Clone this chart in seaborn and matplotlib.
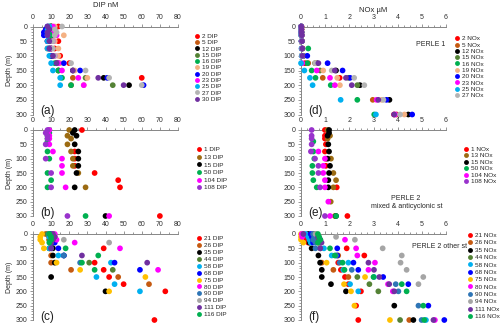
import numpy as np
import pandas as pd
import matplotlib
matplotlib.use('Agg')
import matplotlib.pyplot as plt
from matplotlib.ticker import MultipleLocator
import seaborn as sns

nan = np.nan

# ---------------- data ----------------
# (a) DIP, PERLE 1
depth_a = [0, 10, 20, 30, 50, 75, 100, 125, 150, 175, 200]
dip_a = {
    '2':  [14, 12, 11, 12, 14, 12, 15, 20, nan, 60, nan],
    '5':  [10, 9, 9, 10, 8, 8, 11, 13, 14, 22, 21],
    '12': [10, 9, 11, 10, 10, 10, 10, 14, 22, 39, 53],
    '15': [9, 10, 9, 9, 10, 10, 11, 13, 14, 29, 44],
    '16': [10, 9, 10, 10, 9, 9, 10, 12, 14, 16, 21],
    '19': [12, 11, 12, 17, 12, 14, 14, 15, 23, 30, 28],
    '20': [8, 7, 6, 6, 8, 9, 10, 17, 26, 41, 61],
    '23': [11, 11, 12, 13, 11, 10, 12, 14, 16, 25, 28],
    '25': [9, 8, 8, 8, 8, 8, 9, 10, 11, 15, 15],
    '27': [16, 12, 13, 12, 11, 11, 12, 21, 29, 42, 60],
    '30': [8, 9, 8, 8, 9, 9, 11, 13, 22, 36, 50],
}
col_a = ['#FF0000', '#C55A11', '#000000', '#548235', '#00B050', '#F4B183',
         '#0000FF', '#FF00FF', '#00B0F0', '#B4B4B4', '#7030A0']

# (b) DIP, PERLE 2 mixed & anticyclonic stations
depth_b = [0, 10, 20, 30, 40, 50, 75, 100, 125, 150, 175, 200, 300]
dip_b = {
    '1':   [27, nan, nan, nan, nan, nan, 23, 23, 23, 34, 47, 48, 70],
    '13':  [20, nan, 19, 21, nan, 19, 21, 22, 22, 25, nan, 29, nan],
    '15':  [23, 22, 24, nan, nan, 23, 25, 25, 25, 24, nan, 23, 40],
    '50':  [9, 9, 8, 8, 8, nan, 8, 9, nan, 8, 10, 8, 29],
    '104': [9, 8, 9, 9, nan, 9, 11, 16, 16, 16, nan, 18, 42],
    '108': [8, 7, 8, 8, nan, 7, nan, 7, nan, 10, nan, 10, 19],
}
col_b = ['#FF0000', '#9C6B12', '#000000', '#00B050', '#FF00FF', '#9933CC']

# (c) DIP, PERLE 2 other stations
depth_c = [0, 10, 20, 30, 50, 75, 100, 125, 150, 175, 200, 300]
dip_c = {
    '21':  [10, 11, 11, nan, 39, nan, 34, 39, 42, 50, 73, 67],
    '26':  [7, 9, 9, 10, 9, 10, 10, 21, 47, 64, nan, nan],
    '35':  [11, 10, 11, 11, 11, 11, 12, nan, 10, nan, 40, nan],
    '44':  [8, 9, 9, 10, 9, 17, 31, 44, nan, nan, nan, nan],
    '58':  [9, 9, 10, 10, 9, 14, 43, nan, 35, 45, 59, nan],
    '68':  [10, 11, 11, 12, 14, 17, 45, 59, nan, nan, nan, nan],
    '75':  [5, 4, 4, 5, 6, nan, 13, 26, 62, nan, 42, nan],
    '80':  [12, 12, 13, 23, 48, nan, nan, 69, nan, nan, nan, nan],
    '90':  [9, 10, 10, 10, 10, 17, 26, nan, nan, nan, nan, nan],
    '94':  [11, 12, 17, 42, nan, nan, nan, nan, nan, nan, nan, nan],
    '111': [11, 12, 11, 10, 10, 27, 63, nan, nan, nan, nan, nan],
    '116': [9, 10, 10, 9, 18, 36, 27, 34, nan, nan, nan, nan],
}
col_c = ['#FF0000', '#C55A11', '#000000', '#548235', '#00B0F0', '#0000FF',
         '#FFC000', '#FF00FF', '#2E75B6', '#A5A5A5', '#7030A0', '#00B050']

# (d) NOx, PERLE 1
depth_d = [0, 10, 20, 30, 50, 75, 100, 125, 150, 175, 200, 250, 300]
nox_d = {
    '2':  [0.02, 0.02, 0.02, 0.02, 0.03, 0.05, 0.1, 0.17, nan, 1.6, nan, nan, 3.85],
    '5':  [0.01, 0.01, 0.01, 0.02, 0.03, 0.06, 0.08, 0.3, nan, 0.9, nan, 2.97, 3.96],
    '12': [0.01, 0.01, 0.02, 0.03, 0.04, 0.05, 0.06, 0.65, 1.45, nan, 2.44, 3.66, 4.44],
    '15': [0.01, 0.01, 0.01, 0.02, 0.02, 0.04, 0.05, 0.58, 0.79, 1.96, 2.33, nan, nan],
    '16': [0.01, 0.01, 0.02, 0.02, 0.03, 0.3, 0.1, 0.26, 0.44, 0.6, 1.23, 2.33, 3.03],
    '19': [0.01, 0.02, 0.02, 0.03, 0.04, 0.05, 0.07, 0.6, 0.92, 1.5, 1.61, 3.34, 4.28],
    '20': [0.01, 0.01, 0.02, 0.02, 0.03, 0.04, 0.26, 1.1, 1.72, 2.03, nan, 3.54, 4.6],
    '23': [0.01, 0.01, 0.01, 0.02, 0.02, 0.03, 0.04, 0.05, 0.65, 1.2, 1.4, 3.13, 3.9],
    '25': [0.01, 0.01, 0.01, 0.01, 0.02, 0.02, 0.03, 0.0, 0.14, 0.37, 0.48, 1.64, 3.1],
    '27': [0.01, 0.01, 0.02, 0.02, 0.03, 0.04, 0.05, 0.6, 1.27, 2.2, 2.62, 3.41, 4.1],
    '30': [0.01, 0.02, 0.02, 0.03, 0.04, 0.05, 0.06, 0.72, 1.4, 1.86, 2.1, 3.2, 3.85],
}
col_d = col_a

# (e) NOx, PERLE 2 mixed & anticyclonic stations
depth_e = [0, 10, 20, 30, 40, 50, 75, 100, 125, 150, 175, 200, 250, 300]
nox_e = {
    '1':   [0.99, nan, 0.99, 0.99, nan, 1.03, 0.99, 1.03, 1.03, nan, nan, 1.48, nan, 1.92],
    '13':  [1.1, nan, 1.2, 1.1, nan, nan, nan, 1.24, nan, 1.34, 1.45, 1.34, 1.23, 1.4],
    '15':  [1.16, 1.16, 1.1, nan, nan, 1.13, 1.16, 1.1, 1.2, 1.16, 1.13, 1.13, nan, 1.45],
    '50':  [nan, nan, nan, nan, 0.51, nan, 0.51, 0.55, 0.47, 0.47, 0.51, 0.65, nan, 1.45],
    '104': [nan, nan, nan, nan, nan, nan, 0.72, 0.99, 0.92, 0.92, 0.99, 0.99, 1.13, 1.2],
    '108': [0.44, nan, 0.44, 0.44, nan, 0.44, 0.41, 0.58, 0.72, 0.72, nan, 0.79, nan, 0.99],
}
col_e = col_b

# (f) NOx, PERLE 2 other stations
depth_f = [0, 10, 20, 30, 50, 75, 100, 125, 150, 175, 200, 250, 300]
nox_f = {
    '21':  [0.1, 0.1, 0.2, 0.3, 1.89, 2.62, 1.54, 1.65, 1.82, 1.96, 2.48, 2.28, 2.37],
    '26':  [0.5, 0.6, 0.6, 0.7, nan, 1.54, 0.86, 1.34, 1.96, nan, nan, nan, 4.48],
    '35':  [0.3, 0.35, 0.4, 0.35, 0.44, 0.72, 0.79, 0.86, 0.86, 1.24, 1.86, 3.86, 4.65],
    '44':  [0.6, 0.7, 0.7, 0.75, 0.8, nan, nan, nan, 2.33, 2.83, 3.2, nan, 4.1],
    '58':  [0.2, 0.3, 0.35, 0.4, 0.95, 1.27, 1.96, 1.75, 3.02, 2.03, 2.37, nan, 5.17],
    '68':  [0.4, 0.45, 0.5, 0.5, 1.5, 1.5, 2.17, 2.37, 3.4, 4.44, nan, 5.27, 5.93],
    '75':  [0.0, 0.0, 0.0, 0.1, nan, nan, 1.06, nan, 2.65, 1.78, 2.07, 2.21, 3.68],
    '80':  [0.03, 0.05, 1.82, 0.8, 2.28, 2.33, 3.06, 2.79, nan, 3.6, 3.8, nan, 5.54],
    '90':  [0.5, 0.55, 0.5, 0.6, 0.6, 1.45, 1.6, 2.1, nan, 3.92, 4.03, 4.86, 4.99],
    '94':  [0.6, 1.45, 2.23, 0.8, 3.38, 4.17, 4.12, 4.37, 5.06, 4.86, nan, nan, nan],
    '111': [0.1, 0.7, 0.8, 0.85, 0.8, nan, 2.79, 3.02, 3.24, 3.65, 3.86, nan, 5.48],
    '116': [0.7, 0.75, 0.8, 0.7, 1.2, 1.4, 1.72, 1.8, 3.0, 4.17, 4.37, 5.06, 5.1],
}
col_f = col_c

# ---------------- style ----------------
sns.set_style('white')
plt.rcParams['font.family'] = ['Liberation Sans', 'DejaVu Sans']
AX_GREY = '#868686'

fig = plt.figure(figsize=(5.0, 3.27), dpi=100)


def px(x, y):
    # figure pixel -> figure fraction
    return x / 500, 1 - y / 327


def make_ax(x0, y0, x1, y1):
    l, t = px(x0, y0)
    r, b = px(x1, y1)
    return fig.add_axes([l, b, r - l, t - b])


def draw(ax, depths, series, colors, suffix, xmax, xmaj, xmin, leg_xy,
         spacing, n_legend=None):
    rows = []
    names = [f'{st} {suffix}' for st in series]
    for name, vals in zip(names, series.values()):
        for d, v in zip(depths, vals):
            if not np.isnan(v):
                rows.append((name, d, v))
    df = pd.DataFrame(rows, columns=['station', 'depth', 'value'])
    sns.scatterplot(data=df, x='value', y='depth', hue='station',
                    hue_order=names, palette=dict(zip(names, colors)),
                    s=17, linewidth=0, clip_on=False, ax=ax, zorder=3)
    handles, labels = ax.get_legend_handles_labels()
    if n_legend is None:
        n_legend = len(names)
    lx, ly = px(*leg_xy)
    ax.legend(handles[:n_legend], labels[:n_legend], loc='upper left',
              bbox_to_anchor=(lx, ly), bbox_transform=fig.transFigure,
              frameon=False, fontsize=4.6, handletextpad=0.35,
              labelspacing=spacing, borderpad=0, borderaxespad=0,
              handlelength=0.8, markerscale=0.85)

    ax.set_xlim(0, xmax)
    ax.set_ylim(300, 0)
    ax.xaxis.tick_top()
    ax.xaxis.set_label_position('top')
    ax.xaxis.set_major_locator(MultipleLocator(xmaj))
    ax.xaxis.set_minor_locator(MultipleLocator(xmin))
    ax.yaxis.set_major_locator(MultipleLocator(50))
    ax.yaxis.set_minor_locator(MultipleLocator(10))
    for side in ['right', 'bottom']:
        ax.spines[side].set_visible(False)
    for side in ['top', 'left']:
        ax.spines[side].set_color(AX_GREY)
        ax.spines[side].set_linewidth(0.7)
    ax.tick_params(which='both', direction='out', color=AX_GREY, width=0.6,
                   labelsize=5, pad=1.5, labelcolor='#303030',
                   top=True, bottom=False, left=True, right=False)
    ax.tick_params(which='major', length=2.5)
    ax.tick_params(which='minor', length=1.5)
    ax.set_xlabel('')
    ax.set_ylabel('')


rows_y = [(26.5, 114.5), (130, 216), (234, 320)]
left_x = (33, 178)
right_x = (301, 446)

ax_a = make_ax(left_x[0], rows_y[0][0], left_x[1], rows_y[0][1])
ax_b = make_ax(left_x[0], rows_y[1][0], left_x[1], rows_y[1][1])
ax_c = make_ax(left_x[0], rows_y[2][0], left_x[1], rows_y[2][1])
ax_d = make_ax(right_x[0], rows_y[0][0], right_x[1], rows_y[0][1])
ax_e = make_ax(right_x[0], rows_y[1][0], right_x[1], rows_y[1][1])
ax_f = make_ax(right_x[0], rows_y[2][0], right_x[1], rows_y[2][1])

draw(ax_a, depth_a, dip_a, col_a, 'DIP', 80, 10, 5, (194.5, 33.5), 0.13)
draw(ax_b, depth_b, dip_b, col_b, 'DIP', 80, 10, 5, (196.5, 147), 0.33)
draw(ax_c, depth_c, dip_c, col_c, 'DIP', 80, 10, 5, (196.5, 236), 0.22)
draw(ax_d, depth_d, nox_d, col_d, 'NOx', 6, 1, 0.25, (454.5, 36), 0.13,
     n_legend=10)
draw(ax_e, depth_e, nox_e, col_e, 'NOx', 6, 1, 0.25, (463.5, 146.5), 0.16)
draw(ax_f, depth_f, nox_f, col_f, 'NOx', 6, 1, 0.25, (467.5, 232.5), 0.3)

ax_a.set_xlabel('DIP nM', fontsize=5.5, labelpad=5)
ax_d.set_xlabel('NOx µM', fontsize=5.5, labelpad=1.5)
for ax in (ax_a, ax_b, ax_c):
    ax.set_ylabel('Depth (m)', fontsize=5, labelpad=2)

# panel letters
for ax, lab in zip([ax_a, ax_b, ax_c, ax_d, ax_e, ax_f],
                   ['(a)', '(b)', '(c)', '(d)', '(e)', '(f)']):
    ax.text(0.05, 0.04, lab, transform=ax.transAxes, fontsize=8.5,
            ha='left', va='center', color='#202020')

fig.text(*px(431, 44), 'PERLE 1', fontsize=5, ha='center', va='center')
fig.text(*px(406, 199), 'PERLE 2', fontsize=5, ha='center', va='center')
fig.text(*px(407, 207), 'mixed & anticyclonic st', fontsize=5,
         ha='center', va='center')
fig.text(*px(440, 247), 'PERLE 2 other st', fontsize=5, ha='center',
         va='center')

fig.savefig('out.png', dpi=100)
